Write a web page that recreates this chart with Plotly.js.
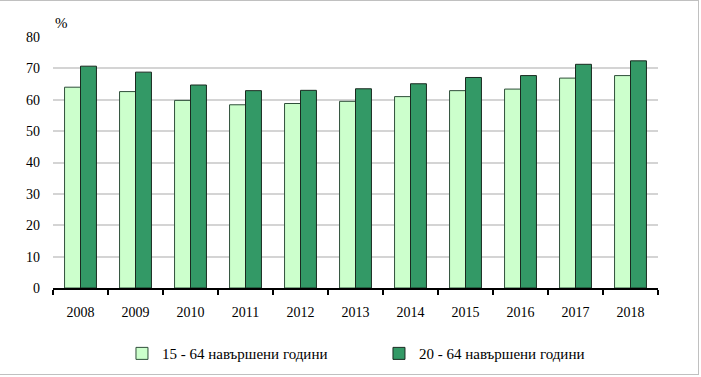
<!DOCTYPE html>
<html>
<head>
<meta charset="utf-8">
<script src="https://cdn.plot.ly/plotly-3.0.1.min.js"></script>
<style>
  html, body { margin: 0; padding: 0; background: #fff; }
  #frame { position: absolute; left: 0; top: 0; width: 698px; height: 373px;
           border-top: 1px solid #c0c0c0; border-right: 1px solid #c0c0c0; border-bottom: 1px solid #c0c0c0; }
  #chart { position: absolute; left: 0; top: 0; width: 701px; height: 377px; }
</style>
</head>
<body>
<div id="frame"></div>
<div id="chart"></div>
<script>
const years = ['2008','2009','2010','2011','2012','2013','2014','2015','2016','2017','2018'];
const series1Name = '15 - 64 навършени години';
const series2Name = '20 - 64 навършени години';
const series1 = [64.0, 62.6, 59.8, 58.4, 58.8, 59.5, 61.0, 62.9, 63.4, 66.9, 67.7];
const series2 = [70.7, 68.8, 64.7, 62.9, 63.0, 63.5, 65.1, 67.1, 67.7, 71.3, 72.4];
const yTicks = [0, 10, 20, 30, 40, 50, 60, 70, 80];

const font = 'Liberation Serif, Times New Roman, serif';

const traces = [
  { type: 'bar', x: years, y: series1, name: series1Name,
    marker: { color: '#CCFFCC', line: { color: '#2f4f3a', width: 1 } } },
  { type: 'bar', x: years, y: series2, name: series2Name,
    marker: { color: '#339966', line: { color: '#1a2a20', width: 1 } } }
];

const layout = {
  width: 701, height: 377,
  paper_bgcolor: 'rgba(0,0,0,0)', plot_bgcolor: 'rgba(0,0,0,0)',
  margin: { l: 53, r: 43, t: 37, b: 89 },
  font: { family: font, size: 14, color: '#000' },
  barmode: 'group', bargap: 0.42, bargroupgap: 0,
  xaxis: {
    type: 'category', showgrid: false, zeroline: false,
    showline: true, linecolor: '#000', linewidth: 2,
    ticks: 'outside', tickson: 'boundaries', ticklen: 5, tickwidth: 2, tickcolor: '#000',
    ticklabelstandoff: 10,
    tickfont: { family: font, size: 14, color: '#000' }
  },
  yaxis: {
    range: [0, 80], tickvals: yTicks, ticktext: yTicks.map(String),
    showgrid: true, gridcolor: '#d4d4d4', gridwidth: 2, zeroline: false,
    showline: false, ticks: '', ticklabelstandoff: 12,
    tickfont: { family: font, size: 14, color: '#000' }
  },
  showlegend: true,
  legend: {
    orientation: 'h', xref: 'container', yref: 'container',
    x: 0.174, xanchor: 'left', y: 0.062, yanchor: 'middle',
    entrywidth: 212, entrywidthmode: 'pixels',
    itemwidth: 30, tracegroupgap: 0,
    font: { family: font, size: 15, color: '#000' },
    bgcolor: 'rgba(0,0,0,0)'
  },
  annotations: [
    { text: '%', xref: 'paper', yref: 'paper', x: 0, y: 1, xanchor: 'left', yanchor: 'bottom',
      xshift: 0, yshift: 4, showarrow: false, font: { family: font, size: 15, color: '#000' } }
  ]
};

Plotly.newPlot('chart', traces, layout, { displayModeBar: false, staticPlot: true });
</script>
</body>
</html>
